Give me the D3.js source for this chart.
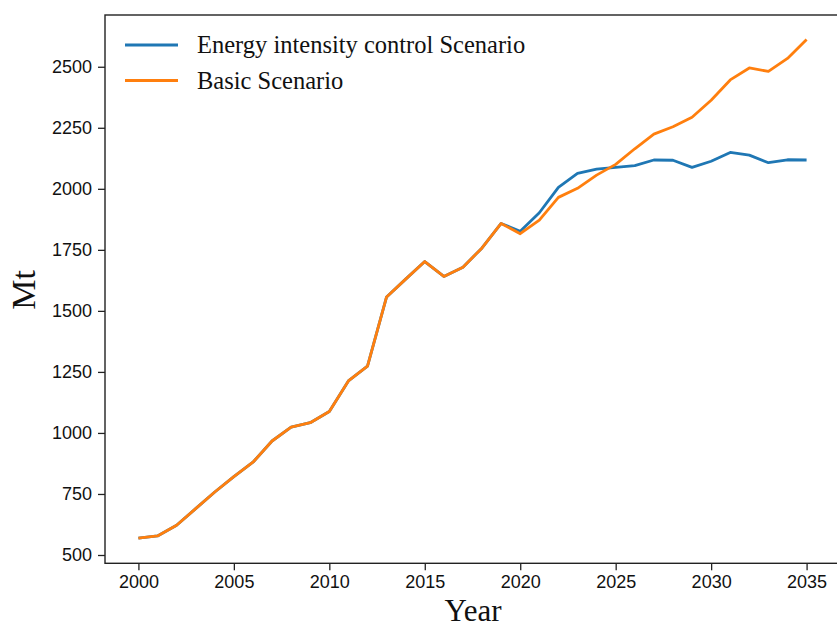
<!DOCTYPE html>
<html>
<head>
<meta charset="utf-8">
<script src="https://cdn.jsdelivr.net/npm/d3@7"></script>
<style>
  html, body { margin: 0; padding: 0; background: #fff; }
  svg { display: block; }
</style>
</head>
<body>
<svg id="chart" width="837" height="628"></svg>
<script>
const years = d3.range(2000, 2036);
const basicScenario = [
  569, 578, 622, 690, 758, 821, 880, 967, 1024, 1042,
  1088, 1213, 1274, 1557, 1630, 1702, 1641, 1679, 1758, 1858,
  1816, 1872, 1965, 2002, 2056, 2100, 2164, 2224, 2254, 2293,
  2363, 2446, 2495, 2481, 2534, 2612
];
const energyScenario = [
  569, 578, 622, 690, 758, 821, 880, 967, 1024, 1042,
  1088, 1213, 1274, 1557, 1630, 1702, 1641, 1679, 1758, 1858,
  1826, 1902, 2006, 2063, 2081, 2088, 2095, 2118, 2117, 2088,
  2113, 2149, 2138, 2107, 2119, 2118
];
const seriesNames = ["Energy intensity control Scenario", "Basic Scenario"];
const seriesColors = ["#1f77b4", "#ff7f0e"];
const xTicks = [2000, 2005, 2010, 2015, 2020, 2025, 2030, 2035];
const yTicks = [500, 750, 1000, 1250, 1500, 1750, 2000, 2250, 2500];

(function () {
const svg = d3.select("#chart");
const mLeft = 105, mRight = 840, mTop = 15, mBottom = 563.3;

const x = d3.scaleLinear().domain([1998.25, 2036.75]).range([mLeft, mRight]);
const y = d3.scaleLinear().domain([466, 2712]).range([mBottom, mTop]);

const tickFont = "'Liberation Sans', Arial, sans-serif";
const serif = "'Liberation Serif', 'Times New Roman', serif";

const xAxis = svg.append("g")
  .attr("transform", `translate(0,${mBottom})`)
  .call(d3.axisBottom(x).tickValues(xTicks).tickFormat(d3.format("d")).tickSize(7).tickPadding(5));
const yAxis = svg.append("g")
  .attr("transform", `translate(${mLeft},0)`)
  .call(d3.axisLeft(y).tickValues(yTicks).tickFormat(d3.format("d")).tickSize(7).tickPadding(6));

[xAxis, yAxis].forEach(g => {
  g.select(".domain").remove();
  g.selectAll(".tick line").attr("stroke", "#222").attr("stroke-width", 1.3);
  g.selectAll(".tick text").attr("fill", "#111")
    .style("font-family", tickFont).style("font-size", "18px");
});

const line = d3.line().x((d, i) => x(years[i])).y(d => y(d));
const seriesData = [energyScenario, basicScenario];
seriesData.forEach((vals, k) => {
  svg.append("path")
    .datum(vals)
    .attr("fill", "none")
    .attr("stroke", seriesColors[k])
    .attr("stroke-width", 2.8)
    .attr("stroke-linejoin", "round")
    .attr("d", line);
});

svg.append("rect")
  .attr("x", mLeft).attr("y", mTop)
  .attr("width", mRight - mLeft).attr("height", mBottom - mTop)
  .attr("fill", "none").attr("stroke", "#222").attr("stroke-width", 1.4);

const legend = svg.append("g");
seriesNames.forEach((name, k) => {
  const ly = 45 + k * 35.5;
  legend.append("line")
    .attr("x1", 125).attr("x2", 178).attr("y1", ly).attr("y2", ly)
    .attr("stroke", seriesColors[k]).attr("stroke-width", 2.8);
  legend.append("text")
    .attr("x", 197).attr("y", ly + 8)
    .style("font-family", serif).style("font-size", "24.5px")
    .attr("fill", "#111")
    .text(name);
});

svg.append("text")
  .attr("x", 473).attr("y", 621)
  .attr("text-anchor", "middle")
  .style("font-family", serif).style("font-size", "31px")
  .attr("fill", "#111")
  .text("Year");
svg.append("text")
  .attr("transform", `translate(35,290) rotate(-90)`)
  .attr("text-anchor", "middle")
  .style("font-family", serif).style("font-size", "34px")
  .attr("fill", "#111")
  .text("Mt");
})();
</script>
</body>
</html>
